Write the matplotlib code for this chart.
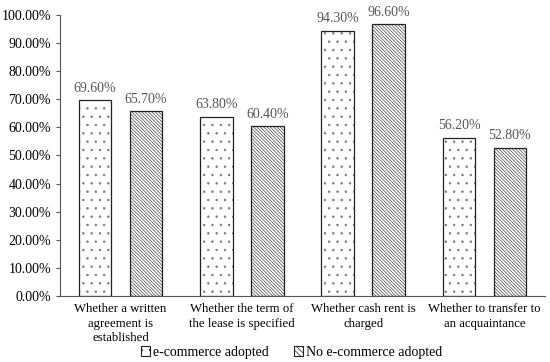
import numpy as np
import matplotlib.pyplot as plt
from matplotlib.ticker import FuncFormatter

plt.rcParams['font.family'] = ['Liberation Serif', 'DejaVu Serif']
plt.rcParams['hatch.linewidth'] = 0.5

categories = ['Whether a written\nagreement is\nestablished',
              'Whether the term of\nthe lease is specified',
              'Whether cash rent is\ncharged',
              'Whether to transfer to\nan acquaintance']
adopted = [69.6, 63.8, 94.3, 56.2]
not_adopted = [65.7, 60.4, 96.6, 52.8]
series_names = ['e-commerce adopted', 'No e-commerce adopted']

fig = plt.figure(figsize=(5.5, 3.62), dpi=100)
ax = fig.add_axes([0.109, 0.182, 0.882, 0.777])

x = np.arange(len(categories))
w = 0.27
off = 0.21

# hatch layer in grey, then a dark outline on top
ax.bar(x - off, adopted, w, color='white', edgecolor='#777777', linewidth=0, hatch='..')
ax.bar(x + off, not_adopted, w, color='white', edgecolor='#444444', linewidth=0,
       hatch='\\' * 10)
b1 = ax.bar(x - off, adopted, w, fill=False, edgecolor='#222222', linewidth=0.9)
b2 = ax.bar(x + off, not_adopted, w, fill=False, edgecolor='#222222', linewidth=0.9)

for bars, vals in ((b1, adopted), (b2, not_adopted)):
    for r, v in zip(bars, vals):
        ax.text(r.get_x() + r.get_width() / 2, v + 2.0, f'{v:.2f}%',
                ha='center', va='bottom', fontsize=10, color='#555555')

ax.set_xlim(-0.5, 3.5)
ax.set_ylim(0, 100)
ax.set_yticks(np.arange(0, 101, 10))
ax.yaxis.set_major_formatter(FuncFormatter(lambda v, p: f'{v:.2f}%'))
ax.set_xticks(x)
ax.set_xticklabels(categories, fontsize=9.2, linespacing=1.3)
ax.tick_params(axis='x', length=0, pad=5)
ax.tick_params(axis='y', labelsize=10, length=3, direction='out', color='#555555')
for s in ('top', 'right'):
    ax.spines[s].set_visible(False)
ax.spines['left'].set_color('#555555')
ax.spines['bottom'].set_color('#555555')

from matplotlib.patches import Patch
handles = [Patch(facecolor='white', edgecolor='#222222', linewidth=0.8, hatch='..'),
           Patch(facecolor='white', edgecolor='#222222', linewidth=0.8, hatch='\\' * 6)]
fig.legend(handles=handles, labels=series_names, loc='center',
           bbox_to_anchor=(0.53, 0.027), ncol=2,
           frameon=False, fontsize=10, handlelength=0.7, handleheight=0.7,
           handletextpad=0.2, columnspacing=1.8)

fig.savefig('out.png', dpi=100)
